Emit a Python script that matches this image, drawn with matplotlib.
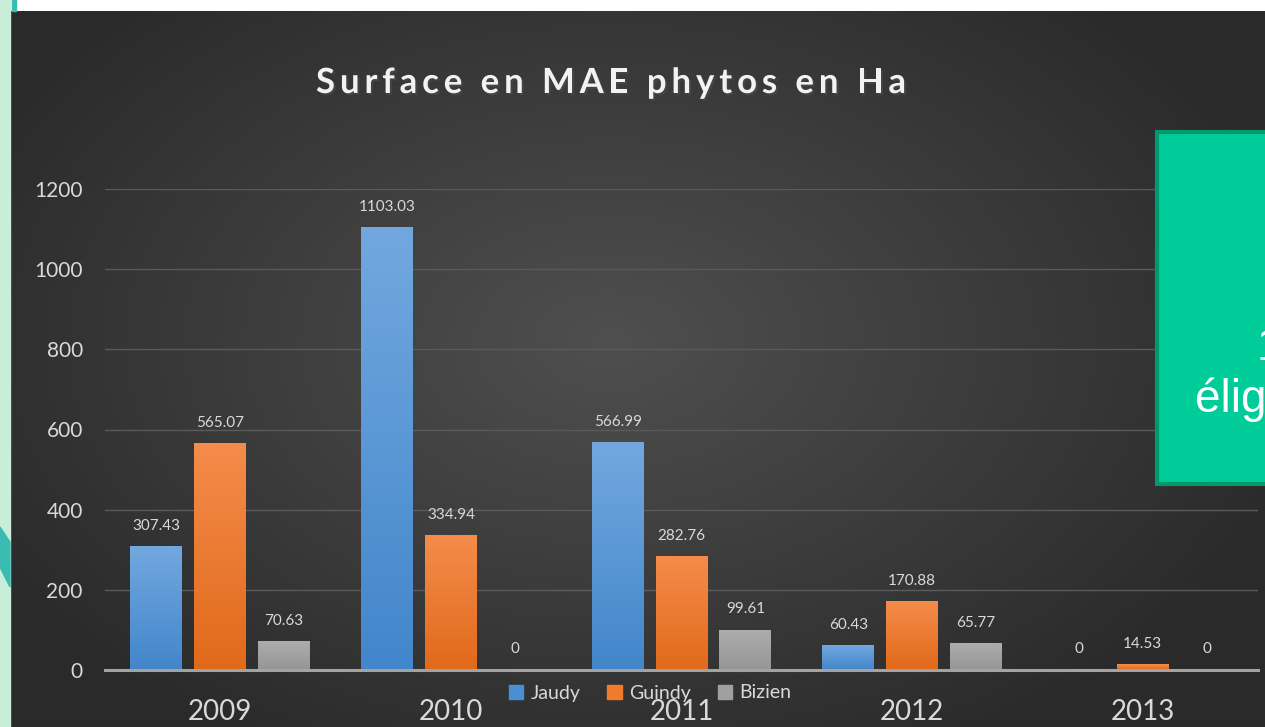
import matplotlib.pyplot as plt
import matplotlib.patheffects as pe
from matplotlib.patches import Rectangle, Polygon
from matplotlib.colors import LinearSegmentedColormap
from matplotlib.font_manager import FontProperties
import numpy as np

# chart data
years = ["2009", "2010", "2011", "2012", "2013"]
series = ["Jaudy", "Guindy", "Bizien"]
jaudy = [307.43, 1103.03, 566.99, 60.43, 0]
guindy = [565.07, 334.94, 282.76, 170.88, 14.53]
bizien = [70.63, 0, 99.61, 65.77, 0]
yticks = [0, 200, 400, 600, 800, 1000, 1200]
title = "Surface en MAE phytos en Ha"

# colours (top, bottom) for the gradient on the bars
grad_colors = [("#72a8df", "#4286cb"), ("#f58c4b", "#e1691a"), ("#adadad", "#959595")]
legend_colors = ["#4a8fd4", "#f07a2e", "#a0a0a0"]
txt_col = "#d9d9d9"

W, H = 1265, 727
fig = plt.figure(figsize=(W / 100, H / 100), dpi=100)
fig.patch.set_facecolor("white")

# slide decoration: light green strip on the left, teal swooshes
fig.patches.append(Rectangle((0, 0), 10 / W, 1, transform=fig.transFigure, color="#c8eed9", zorder=0))
fig.patches.append(Polygon([[0, 200 / H], [10 / W, 185 / H], [10 / W, 140 / H], [0, 160 / H]],
                           closed=True, transform=fig.transFigure, color="#3bbcb2", zorder=0))
fig.patches.append(Polygon([[12 / W, 1], [16 / W, 1], [16 / W, 716 / H], [12 / W, 716 / H]],
                           closed=True, transform=fig.transFigure, color="#3bbcb2", zorder=0))

# dark background with a soft radial highlight
bg = fig.add_axes([10 / W, 0, (W - 10) / W, 716 / H])
bg.set_axis_off()
xx, yy = np.meshgrid(np.arange(W - 10), np.arange(716))
r = np.sqrt(((xx - 600) / 720.0) ** 2 + ((yy - 330) / 470.0) ** 2)
shade = np.clip(1 - r, 0, 1)
bg_cmap = LinearSegmentedColormap.from_list("bg", ["#2a2a2a", "#4f4f4f"])
bg.imshow(shade, cmap=bg_cmap, vmin=0, vmax=1, aspect="auto", interpolation="bilinear")

# main chart axes
ax = fig.add_axes([105 / W, 57 / H, (1258 - 105) / W, (670 - 189) / H])
ax.patch.set_alpha(0)

x = np.arange(len(years))
width = 0.225
gap = 0.277
grad = np.linspace(0, 1, 256).reshape(-1, 1)

for i, (name, vals) in enumerate(zip(series, [jaudy, guindy, bizien])):
    pos = x + (i - 1) * gap
    bars = ax.bar(pos, vals, width=width, color="none", zorder=3)
    cm = LinearSegmentedColormap.from_list(name, [grad_colors[i][1], grad_colors[i][0]])
    for b, v in zip(bars, vals):
        if v > 0:
            # gradient fill inside the bar
            ax.imshow(grad, cmap=cm, origin="lower", aspect="auto", zorder=3,
                      extent=(b.get_x(), b.get_x() + b.get_width(), 0, v))
        ax.annotate(f"{v:g}" if v == 0 else f"{v:.2f}", (b.get_x() + b.get_width() / 2, v),
                    xytext=(0, 12), textcoords="offset points", ha="center", va="baseline",
                    color=txt_col, fontsize=11, family="Lato", zorder=5)

ax.set_xlim(-0.5, len(years) - 0.5)
ax.set_ylim(0, 1200)

# axes styling
ax.set_yticks(yticks)
ax.set_xticks(x)
ax.set_xticklabels(years)
ax.tick_params(axis="y", length=0, pad=16, labelsize=15, labelcolor=txt_col)
ax.tick_params(axis="x", length=0, pad=21, labelsize=20, labelcolor=txt_col)
for lab in ax.get_xticklabels() + ax.get_yticklabels():
    lab.set_family("Lato")
ax.grid(axis="y", color="#5a5a5a", lw=1, zorder=0)
for s in ["top", "right", "left"]:
    ax.spines[s].set_visible(False)
ax.spines["bottom"].set_color("#a3a3a3")
ax.spines["bottom"].set_linewidth(2.2)
ax.spines["bottom"].set_zorder(4)

# legend
handles = [Rectangle((0, 0), 1, 1, color=c) for c in legend_colors]
leg = fig.legend(handles, series, loc="center", bbox_to_anchor=(650 / W, 34 / H), ncol=3,
                 frameon=False, prop={"family": "Lato", "size": 14}, handlelength=0.75,
                 handleheight=0.75, handletextpad=0.35, columnspacing=1.4, labelcolor=txt_col)

# title with extra letter spacing and a drop shadow
fig.canvas.draw()
rend = fig.canvas.get_renderer()
fp = FontProperties(family="Lato", weight="bold", size=25)
def tw(s):
    return rend.get_text_width_height_descent(s, fp, ismath=False)[0]
base = tw("I")
offs = [tw(title[:k] + "I") - base for k in range(len(title))]
natural = tw(title)
extra = (590 - natural) / (len(title) - 1)
x0 = 316
for k, ch in enumerate(title):
    if ch == " ":
        continue
    fig.text((x0 + offs[k] + k * extra) / W, (H - 93) / H, ch, fontproperties=fp,
             color="#f2f2f2", ha="left", va="baseline",
             path_effects=[pe.SimplePatchShadow(offset=(1.5, -1.5), alpha=0.7), pe.Normal()])

# green callout box on the right (cut by the slide edge)
fig.patches.append(Rectangle((1157 / W, 243 / H), 120 / W, 352 / H, transform=fig.transFigure,
                             facecolor="#00cc99", edgecolor="#00996d", lw=3, zorder=6))
fig.text(1195 / W, (H - 412) / H, "éligibles", color="white", fontsize=33,
         family="Liberation Sans", ha="left", va="baseline", zorder=7)
fig.text(1257 / W, (H - 360) / H, "1", color="white", fontsize=33,
         family="Liberation Sans", ha="left", va="baseline", zorder=7)

fig.savefig("out.png", dpi=100, facecolor=fig.get_facecolor())
